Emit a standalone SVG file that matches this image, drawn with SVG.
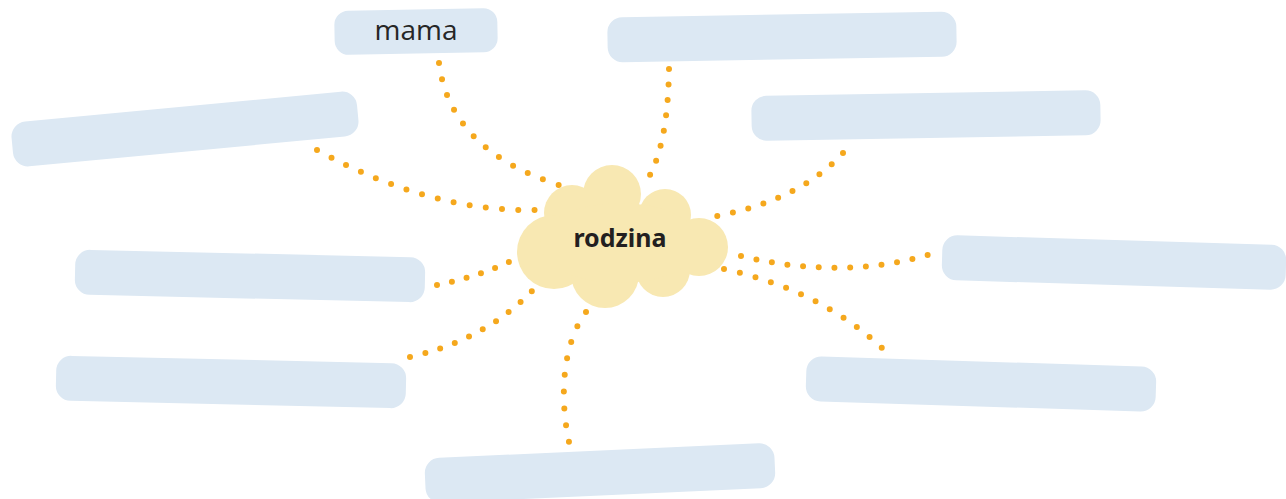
<svg xmlns="http://www.w3.org/2000/svg" width="1286" height="499" viewBox="0 0 1286 499">
<style>
.box{fill:#dce8f3}
.dots{fill:none;stroke:#f5a81d;stroke-width:6;stroke-linecap:round;stroke-dasharray:0 0.998}
.cloud{fill:#f8e8b2}
.t1{font-family:"Open Sans","Noto Sans",sans-serif;font-size:28px;fill:#262626;text-anchor:middle}
.t2{font-family:"Noto Sans","Open Sans",sans-serif;font-size:25px;font-weight:bold;fill:#231f20;text-anchor:middle}
</style>
<rect width="1286" height="499" fill="#ffffff"/>
<g id="connectors">
<path class="dots" pathLength="11" d="M439,63 Q450,150 559,185"/>
<path class="dots" pathLength="14" d="M317,150 Q430,212 535,210"/>
<path class="dots" pathLength="7" d="M669,69 Q668,140 650,175"/>
<path class="dots" pathLength="9" d="M843,153 Q800,200 717,216"/>
<path class="dots" pathLength="5" d="M437,285 Q480,276 509,262"/>
<path class="dots" pathLength="9" d="M410,357 Q485,340 532,291"/>
<path class="dots" pathLength="8" d="M586,312 C565,340 558,390 569,442"/>
<path class="dots" pathLength="12" d="M741,256 Q840,280 928,255"/>
<path class="dots" pathLength="11" d="M724,269 Q820,290 882,348"/>
</g>
<g id="node-mama">
<rect class="box" x="-81.5" y="-22" width="163" height="44" rx="14" transform="translate(416,31.5) rotate(-1.1)"/>
<text class="t1" x="416" y="40">mama</text>
</g>
<g id="node-top-right">
<rect class="box" x="-174.5" y="-22.5" width="349" height="45" rx="15" transform="translate(782,37) rotate(-1)"/>
</g>
<g id="node-top-left">
<rect class="box" x="-173.5" y="-22.5" width="347" height="45" rx="15" transform="translate(185,129) rotate(-5.4)"/>
</g>
<g id="node-right-upper">
<rect class="box" x="-174.5" y="-22.5" width="349" height="45" rx="15" transform="translate(926,115.5) rotate(-1)"/>
</g>
<g id="node-left-middle">
<rect class="box" x="-175" y="-22.5" width="350" height="45" rx="15" transform="translate(250,276) rotate(1.3)"/>
</g>
<g id="node-right-middle">
<rect class="box" x="-172" y="-22.5" width="344" height="45" rx="15" transform="translate(1114,262.5) rotate(1.7)"/>
</g>
<g id="node-left-lower">
<rect class="box" x="-175" y="-22.5" width="350" height="45" rx="15" transform="translate(231,382) rotate(1.3)"/>
</g>
<g id="node-right-lower">
<rect class="box" x="-175" y="-22.5" width="350" height="45" rx="15" transform="translate(981,384) rotate(1.8)"/>
</g>
<g id="node-bottom">
<rect class="box" x="-175" y="-22.5" width="350" height="45" rx="15" transform="translate(600,473) rotate(-2.6)"/>
</g>
<g id="node-rodzina">
<g class="cloud">
<circle cx="612" cy="194" r="29"/>
<circle cx="572" cy="213" r="28"/>
<circle cx="665" cy="215" r="26"/>
<circle cx="699" cy="247" r="29"/>
<circle cx="554" cy="252" r="37"/>
<circle cx="605" cy="274" r="34"/>
<circle cx="663" cy="270" r="27"/>
<ellipse cx="620" cy="243" rx="80" ry="40"/>
</g>
<text class="t2" x="620" y="247">rodzina</text>
</g>
</svg>
